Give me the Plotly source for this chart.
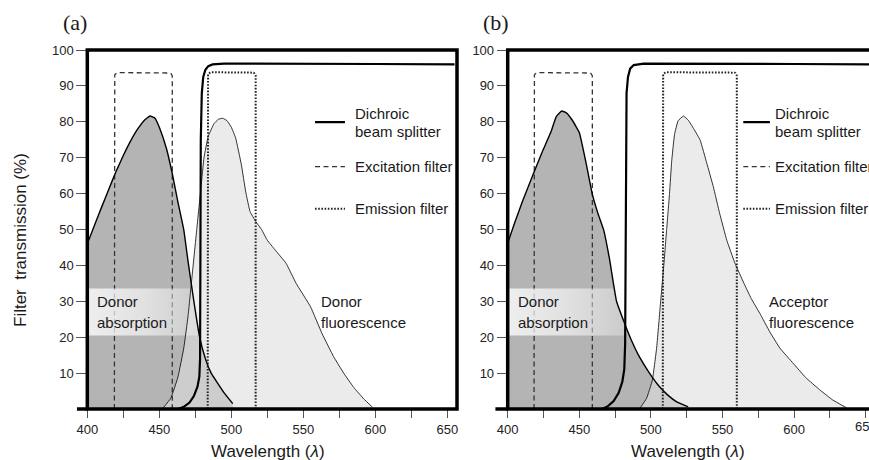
import numpy as np
import plotly.graph_objects as go

# ---------------- data ----------------
# Panel (a): donor absorption / donor fluorescence
abs_a_x = [400, 405, 410, 415, 420, 425, 430, 435, 440, 443.5, 447, 450, 455, 459, 463, 467, 470, 474, 478, 482, 486, 490, 495, 501]
abs_a_y = [46, 51.2, 56.3, 61.3, 66.2, 70.6, 74.6, 78, 80.6, 81.6, 81, 78.5, 72.5, 65.6, 57.5, 49.9, 41, 30, 20, 14, 10, 7.5, 4.5, 1.5]

em_a_x = [452, 458, 463, 467, 470, 472.5, 476, 479, 481, 484, 488, 491, 494, 497, 500, 503, 507, 510, 513, 517, 521, 525, 530, 538, 545, 555, 563, 571, 578, 585, 592, 598]
em_a_y = [0, 3, 9, 17, 26, 36, 50, 62, 70, 76, 79.5, 80.7, 81, 80.3, 78.5, 75.5, 68, 60.5, 55, 52.2, 50, 47, 44.5, 40.6, 35, 28.5, 21, 14.6, 10, 6, 2.8, 0.5]

di_a_x = [463, 467, 471, 474, 476.5, 477.8, 478.3, 478.5, 478.8, 479.5, 480.5, 482, 484, 487, 495, 600, 655]
di_a_y = [0, 0.6, 1.8, 3.6, 6.2, 9, 14, 40, 75, 88, 92.5, 94.5, 95.5, 96, 96.2, 96.1, 96]

exc_a = [418.8, 459.0, 93.7]   # left edge, right edge, transmission
emf_a = [483.6, 516.9, 93.8]

# Panel (b): donor absorption / acceptor fluorescence
abs_b_x = [400, 405, 410, 418, 424, 430, 434, 437.7, 441, 445, 450, 455, 459, 463, 467, 471, 476, 481, 486, 492, 499, 505, 512, 518, 526]
abs_b_y = [46.2, 52, 57.5, 65.6, 71.5, 77, 81.5, 83, 82.5, 80.5, 77, 68, 60, 54.5, 49.9, 42, 30, 24.5, 19.5, 14.5, 10, 6.7, 3.8, 2, 0.6]

ac_b_x = [492, 497, 501, 504, 506.5, 509, 511, 513, 514.5, 516.5, 519, 522.7, 526, 530, 534.4, 539, 543.6, 548, 553, 558.7, 565, 570, 576, 583, 590, 599.4, 608, 618, 627, 636.7]
ac_b_y = [0, 3, 8, 17, 28.5, 40, 50, 60, 69, 76.5, 80.3, 81.6, 80.5, 78, 74.9, 68.5, 61.9, 54.5, 47, 40.6, 35, 30.8, 26.7, 21.5, 17, 12.7, 8.8, 5.3, 2.5, 0.3]

di_b_x = [466, 470, 474, 477.5, 480, 481.4, 482, 482.2, 482.5, 483, 484, 485.5, 488, 495, 600, 655]
di_b_y = [0, 0.8, 2.2, 4.5, 7.5, 11, 18, 40, 75, 88, 92.5, 94.8, 95.8, 96.2, 96.1, 96]

exc_b = [418.4, 459.1, 93.7]
emf_b = [508.3, 560.0, 93.8]

x_tick_vals = [400, 425, 450, 475, 500, 525, 550, 575, 600, 625, 650]
x_tick_text = ["400", "", "450", "", "500", "", "550", "", "600", "", "650"]
y_tick_vals = [10, 20, 30, 40, 50, 60, 70, 80, 90, 100]

# ---------------- helpers ----------------
FONT = "Liberation Sans, Arial, sans-serif"


def rounded_box(x0, x1, top, rx=2.6, ry=1.1, n=8):
    t = np.linspace(0, np.pi / 2, n)
    xs = [x0]
    ys = [0]
    xs += list(x0 + rx - rx * np.cos(t))
    ys += list(top - ry + ry * np.sin(t))
    xs += list(x1 - rx + rx * np.sin(t))
    ys += list(top - ry + ry * np.cos(t))
    xs.append(x1)
    ys.append(0)
    return xs, ys


fig = go.Figure()


def add_panel(xa, ya, ax, ay, ex, ey, dx, dy, exc, emf, band_right):
    common = dict(xaxis=xa, yaxis=ya, hoverinfo="skip", showlegend=False)
    fig.add_trace(go.Scatter(x=ax, y=ay, mode="lines", fill="tozeroy",
                             fillcolor="#b4b4b4", line=dict(width=0, shape="spline", smoothing=0.3), **common))
    fig.add_trace(go.Scatter(x=ex, y=ey, mode="lines", fill="tozeroy",
                             fillcolor="rgba(222,222,222,0.6)", line=dict(width=0, shape="spline", smoothing=0.3), **common))
    bx, by = rounded_box(exc[0], exc[1], exc[2])
    fig.add_trace(go.Scatter(x=bx, y=by, mode="lines",
                             line=dict(color="#333333", width=1.3, dash="5px,3.5px"), **common))
    fig.add_trace(go.Scatter(x=[400, band_right, band_right, 400, 400],
                             y=[20.5, 20.5, 33.6, 33.6, 20.5], mode="lines", fill="toself",
                             line=dict(width=0),
                             fillgradient=dict(type="horizontal",
                                               colorscale=[[0, "rgba(255,255,255,0.78)"],
                                                           [0.5, "rgba(255,255,255,0.6)"],
                                                           [1, "rgba(255,255,255,0.3)"]]),
                             **common))
    fig.add_trace(go.Scatter(x=ax, y=ay, mode="lines", line=dict(color="black", width=1.4, shape="spline", smoothing=0.3), **common))
    fig.add_trace(go.Scatter(x=ex, y=ey, mode="lines", line=dict(color="black", width=0.8, shape="spline", smoothing=0.3), **common))
    bx, by = rounded_box(emf[0], emf[1], emf[2])
    fig.add_trace(go.Scatter(x=bx, y=by, mode="lines",
                             line=dict(color="#222222", width=2, dash="1.6px,1.6px"), **common))
    fig.add_trace(go.Scatter(x=dx, y=dy, mode="lines",
                             line=dict(color="black", width=2.2), **common))


add_panel("x", "y", abs_a_x, abs_a_y, em_a_x, em_a_y, di_a_x, di_a_y, exc_a, emf_a, 480)
add_panel("x2", "y2", abs_b_x, abs_b_y, ac_b_x, ac_b_y, di_b_x, di_b_y, exc_b, emf_b, 483)

W, H = 869, 460
ydom = [51 / H, 410 / H]
xaxis_common = dict(tickvals=x_tick_vals, ticktext=x_tick_text, ticks="outside", ticklen=8,
                    tickwidth=1, tickcolor="#555555", showline=False, showgrid=False,
                    zeroline=False, automargin=False,
                    tickfont=dict(family=FONT, size=13, color="#222222"))
yaxis_common = dict(range=[0, 100], tickvals=y_tick_vals, ticks="outside", ticklen=10,
                    tickwidth=1, tickcolor="#555555", showline=False, showgrid=False,
                    zeroline=False, automargin=False,
                    tickfont=dict(family=FONT, size=13, color="#222222"),
                    domain=ydom)

fig.update_layout(
    width=W, height=H, autosize=False,
    margin=dict(l=0, r=0, t=0, b=0, pad=0),
    paper_bgcolor="white", plot_bgcolor="white",
    xaxis=dict(domain=[87.3 / W, 457 / W], range=[400, 656.7], anchor="y", **xaxis_common),
    yaxis=dict(anchor="x", **yaxis_common),
    xaxis2=dict(domain=[507.7 / W, 1.0], range=[400, 652.3], anchor="y2", **xaxis_common),
    yaxis2=dict(anchor="x2", **yaxis_common),
)

shapes = []
FW = 3.5
shapes.append(dict(type="rect", xref="x domain", yref="y domain", x0=0, x1=1, y0=0, y1=1,
                   line=dict(color="black", width=FW)))
shapes.append(dict(type="line", xref="x domain", yref="y domain", x0=-0.028, x1=0, y0=0, y1=0,
                   line=dict(color="black", width=FW)))
shapes.append(dict(type="path", xref="x2 domain", yref="y2 domain",
                   path="M 1.05,1 L 0,1 L 0,0 L 1.05,0",
                   line=dict(color="black", width=FW)))
shapes.append(dict(type="line", xref="x2 domain", yref="y2 domain", x0=-0.034, x1=0, y0=0, y1=0,
                   line=dict(color="black", width=FW)))

annotations = []


def txt(xref, yref, x, y, text, size=15, anchor="left", family=FONT, angle=0, yanchor="middle",
        color="#1a1a1a"):
    annotations.append(dict(xref=xref, yref=yref, x=x, y=y, text=text, showarrow=False,
                            xanchor=anchor, yanchor=yanchor, textangle=angle,
                            font=dict(family=family, size=size, color=color)))


for xr, yr, lx0, lx1, tx in [("x", "y", 558.1, 578.9, 584.2), ("x2", "y2", 564.5, 583.1, 585.0)]:
    shapes.append(dict(type="line", xref=xr, yref=yr, x0=lx0, x1=lx1, y0=79.9, y1=79.9,
                       line=dict(color="black", width=2.2)))
    shapes.append(dict(type="line", xref=xr, yref=yr, x0=lx0, x1=lx1, y0=67.5, y1=67.5,
                       line=dict(color="#333333", width=1.3, dash="5px,3.5px")))
    shapes.append(dict(type="line", xref=xr, yref=yr, x0=lx0, x1=lx1, y0=55.8, y1=55.8,
                       line=dict(color="#222222", width=2, dash="1.6px,1.6px")))
    txt(xr, yr, tx, 82.4, "Dichroic")
    txt(xr, yr, tx, 77.2, "beam splitter")
    txt(xr, yr, tx, 67.5, "Excitation filter")
    txt(xr, yr, tx, 55.8, "Emission filter")

txt("x", "y", 405.3, 29.9, "Donor")
txt("x", "y", 405.3, 24.0, "absorption")
txt("x", "y", 560.6, 29.9, "Donor")
txt("x", "y", 560.6, 24.0, "fluorescence")
txt("x2", "y2", 405.8, 29.9, "Donor")
txt("x2", "y2", 405.8, 24.0, "absorption")
txt("x2", "y2", 580.8, 29.9, "Acceptor")
txt("x2", "y2", 580.8, 24.0, "fluorescence")

# last tick label of panel (b), cut by the figure edge as in the reference
txt("x2", "paper", x_tick_vals[-1], (H - 426.5) / H, x_tick_text[-1], size=13, anchor="center",
    color="#222222")

txt("paper", "paper", 268 / W, (H - 451) / H, "Wavelength (<i>λ</i>)", size=17, anchor="center")
txt("paper", "paper", 687.5 / W, (H - 451) / H, "Wavelength (<i>λ</i>)", size=17, anchor="center")
txt("paper", "paper", 20 / W, (H - 240) / H, "Filter\u00a0 transmission (%)", size=17,
    anchor="center", angle=-90)

txt("paper", "paper", 61 / W, (H - 22.7) / H, "(a)", size=22, family="Liberation Serif, Times New Roman, serif")
txt("paper", "paper", 481 / W, (H - 22.7) / H, "(b)", size=22, family="Liberation Serif, Times New Roman, serif")

fig.update_layout(shapes=shapes, annotations=annotations)
fig.write_html("out.html",
               config={"displayModeBar": False, "staticPlot": True},
               post_script="document.body.style.margin='0';document.body.style.overflow='hidden';")
